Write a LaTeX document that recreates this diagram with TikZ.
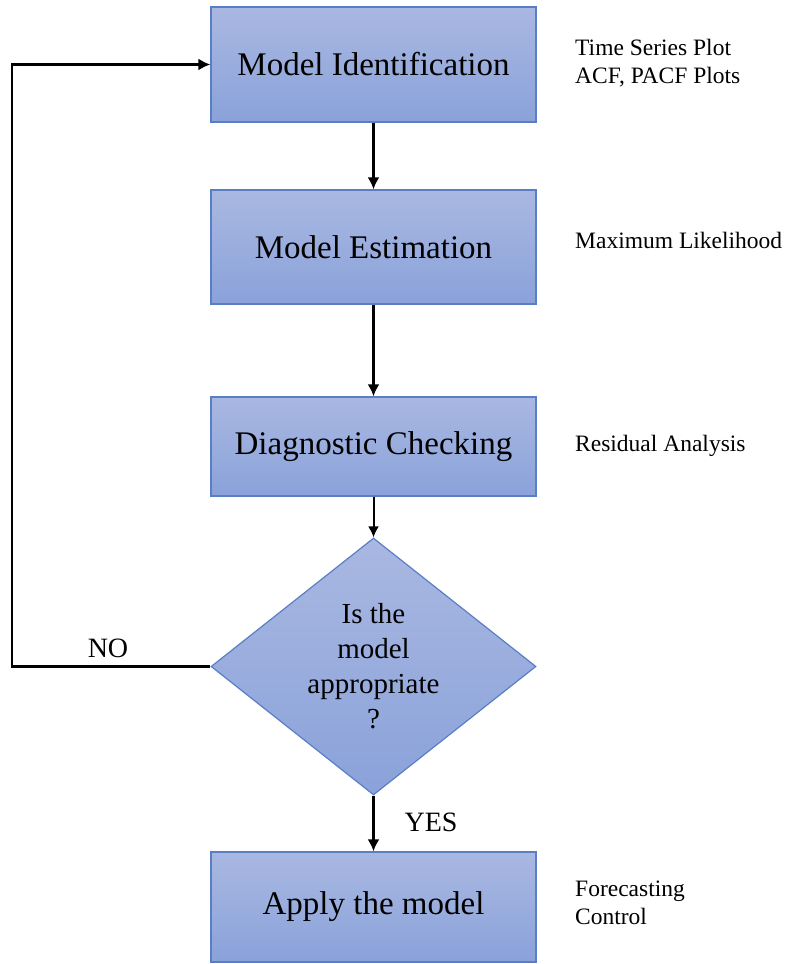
\documentclass[tikz,border=0pt]{standalone}
\usepackage{fontspec}
\setmainfont{Liberation Serif}
\usetikzlibrary{arrows.meta,shapes.geometric}
\definecolor{boxtop}{HTML}{A9B8E1}
\definecolor{boxbot}{HTML}{8AA2DA}
\definecolor{boxedge}{HTML}{5A7EC6}
\tikzset{
  stagebox/.style={draw=boxedge, line width=1.2pt, top color=boxtop, bottom color=boxbot,
    minimum width=325pt, inner sep=0pt, font=\fontsize{33}{38}\selectfont},
  decision/.style={diamond, draw=boxedge, line width=1.2pt, top color=boxtop, bottom color=boxbot,
    minimum width=325pt, minimum height=257pt, inner sep=0pt, aspect=1.265,
    align=center, font=\fontsize{29}{35}\selectfont},
  note/.style={anchor=west, align=left, inner sep=0pt, font=\fontsize{23.5}{28}\selectfont},
  flow/.style={line width=2.8pt, -{Latex[length=12pt,width=12pt]}},
  thinflow/.style={line width=2pt, -{Latex[length=11pt,width=11pt]}},
  tag/.style={font=\fontsize{28}{32}\selectfont}
}
\begin{document}
\begin{tikzpicture}[x=1pt,y=1pt]
\useasboundingbox (0,0) rectangle (790,964);
% process stages
\node[stagebox, minimum height=115pt] (ident) at (373.5,899.5) {Model Identification};
\node[stagebox, minimum height=114pt] (estim) at (373.5,717) {Model Estimation};
\node[stagebox, minimum height=99pt] (diag) at (373.5,517.5) {Diagnostic Checking};
\node[decision] (check) at (373.5,297.5) {Is the\\model\\appropriate\\?};
\node[stagebox, minimum height=110pt] (apply) at (373.5,57) {Apply the model};
% connectors
\draw[flow] (ident.south) -- (estim.north);
\draw[flow] (estim.south) -- (diag.north);
\draw[thinflow] (diag.south) -- (check.north);
\draw[flow] (check.south) -- (apply.north);
\coordinate (loopx) at (12,0);
\draw[flow, line join=miter] (check.west) -- (check.west -| loopx) -- (ident.west -| loopx) -- (ident.west);
% branch labels
\node[tag] (no) at (108,316) {NO};
\node[tag] (yes) at (431,142) {YES};
% side notes
\node[note] (n1) at (575,901) {Time Series Plot\\ACF, PACF Plots};
\node[note] (n2) at (575,724) {Maximum Likelihood};
\node[note] (n3) at (575,518) {Residual Analysis};
\node[note] (n4) at (575,61) {Forecasting\\Control};
\end{tikzpicture}
\end{document}
